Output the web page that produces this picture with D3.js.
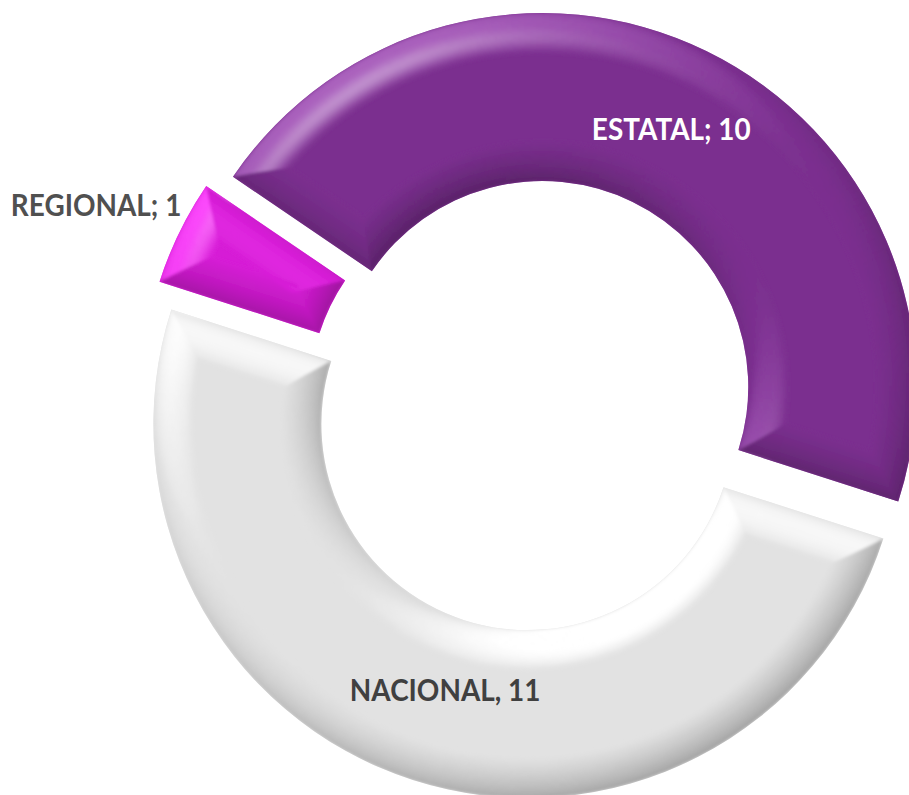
<!DOCTYPE html>
<html>
<head>
<meta charset="utf-8">
<script src="https://cdn.jsdelivr.net/npm/d3@7"></script>
<style>
  body { margin: 0; background: #fff; }
  svg { display: block; }
</style>
</head>
<body>
<div id="chart"></div>
<script>
// data
const categories = ["ESTATAL", "NACIONAL", "REGIONAL"];
const values = [10, 11, 1];
const labelTexts = ["ESTATAL; 10", "NACIONAL, 11", "REGIONAL; 1"];
const sliceColors = ["#7b2f8f", "#e2e2e2", "#d61cd6"];
const labelColors = ["#ffffff", "#404040", "#505050"];

// layout
const W = 909, H = 795;
const cx = 533.5, cy = 405;
const outerR = 374, innerR = 206, explode = 20;
const bevel = 40, bands = 12;
const startDeg = -55.8;
const labelRadius = [288, 279, 461];
const labelShiftDeg = [0.6, -0.7, -1.5];
const textSquash = 0.93;

function normalize(v) {
  const l = Math.hypot(v[0], v[1], v[2]);
  return [v[0] / l, v[1] / l, v[2] / l];
}
const light = normalize([-0.42, -0.66, 0.66]);
const half = normalize([light[0], light[1], light[2] + 1]);
const specFace = Math.pow(half[2], 30);

function shade(base, n) {
  const dot = n[0] * light[0] + n[1] * light[1] + n[2] * light[2];
  const k = dot - light[2];
  let c;
  if (k >= 0) {
    c = d3.rgb(base).brighter(k * 1.5).formatHex();
    c = d3.interpolateRgb(c, "#ffffff")(Math.min(1, k * 0.6));
  } else {
    c = d3.rgb(base).darker(Math.min(2, -k * 0.8)).formatHex();
  }
  const sp = Math.pow(Math.max(0, n[0] * half[0] + n[1] * half[1] + n[2] * half[2]), 30) - specFace;
  if (sp > 0) c = d3.interpolateRgb(c, "#ffffff")(sp * 0.35);
  return c;
}

// circle bevel profile: tilt shrinks from the edge towards the flat face
function normalAt(dir, t) {
  const s = 0.96 * (bevel - t) / bevel;
  const c = Math.sqrt(1 - s * s);
  return [dir[0] * s, dir[1] * s, c];
}

const svg = d3.select("#chart").append("svg").attr("width", W).attr("height", H);
const defs = svg.append("defs");
defs.append("filter").attr("id", "soft")
    .attr("x", "-5%").attr("y", "-5%").attr("width", "110%").attr("height", "110%")
    .append("feGaussianBlur").attr("stdDeviation", 1.6);

const data = categories.map((c, i) => ({ name: c, value: values[i], label: labelTexts[i], color: sliceColors[i], textColor: labelColors[i] }));

const a0 = startDeg * Math.PI / 180;
const pie = d3.pie().sort(null).value(d => d.value).startAngle(a0).endAngle(a0 + 2 * Math.PI);
const arcs = pie(data);
const arc = d3.arc().innerRadius(innerR).outerRadius(outerR);

function offset(d) {
  const m = (d.startAngle + d.endAngle) / 2;
  return [cx + Math.sin(m) * explode, cy - Math.cos(m) * explode];
}

const slices = svg.selectAll("g.slice").data(arcs).enter().append("g")
    .attr("class", "slice")
    .attr("transform", d => "translate(" + offset(d) + ")");

slices.each(function(d, i) {
  const g = d3.select(this);
  const clipId = "clip" + i;
  defs.append("clipPath").attr("id", clipId).append("path").attr("d", arc(d));

  g.append("path").attr("d", arc(d)).attr("fill", d.data.color);

  const bev = g.append("g").attr("clip-path", "url(#" + clipId + ")")
               .append("g").attr("filter", "url(#soft)");

  const nSeg = Math.max(2, Math.ceil((d.endAngle - d.startAngle) / (Math.PI / 180)));
  const da = (d.endAngle - d.startAngle) / nSeg;
  const bw = bevel / bands;

  // rims (outer and inner)
  const pieces = [];
  for (let k = 0; k < bands; k++) {
    const t1 = k * bw, t2 = (k + 1) * bw, tm = (t1 + t2) / 2;
    for (let j = 0; j < nSeg; j++) {
      const s0 = d.startAngle + j * da, s1 = s0 + da, am = (s0 + s1) / 2;
      const u = [Math.sin(am), -Math.cos(am)];
      pieces.push({ r0: outerR - t2 - 0.4, r1: outerR - t1, s0: s0, s1: s1 + 0.003, n: normalAt(u, tm) });
      pieces.push({ r0: innerR + t1, r1: innerR + t2 + 0.4, s0: s0, s1: s1 + 0.003, n: normalAt([-u[0], -u[1]], tm) });
    }
  }
  bev.selectAll("path.rim").data(pieces).enter().append("path")
     .attr("class", "rim")
     .attr("d", p => d3.arc()({ innerRadius: p.r0, outerRadius: p.r1, startAngle: p.s0, endAngle: p.s1 }))
     .attr("fill", p => shade(d.data.color, p.n));

  // end caps with mitred corners
  function pt(s, ang) { return [s * Math.sin(ang), -s * Math.cos(ang)]; }
  const caps = [];
  for (let k = 0; k < bands; k++) {
    const t1 = k * bw, t2 = (k + 1) * bw + 0.4, tm = (k + 0.5) * bw;
    const dirS = [-Math.cos(d.startAngle), -Math.sin(d.startAngle)];
    const dirE = [Math.cos(d.endAngle), Math.sin(d.endAngle)];
    caps.push({
      pts: [pt(outerR - t1, d.startAngle + t1 / (outerR - t1)), pt(innerR + t1, d.startAngle + t1 / (innerR + t1)),
            pt(innerR + t2, d.startAngle + t2 / (innerR + t2)), pt(outerR - t2, d.startAngle + t2 / (outerR - t2))],
      n: normalAt(dirS, tm)
    });
    caps.push({
      pts: [pt(outerR - t1, d.endAngle - t1 / (outerR - t1)), pt(innerR + t1, d.endAngle - t1 / (innerR + t1)),
            pt(innerR + t2, d.endAngle - t2 / (innerR + t2)), pt(outerR - t2, d.endAngle - t2 / (outerR - t2))],
      n: normalAt(dirE, tm)
    });
  }
  bev.selectAll("path.cap").data(caps).enter().append("path")
     .attr("class", "cap")
     .attr("d", c => "M" + c.pts.join("L") + "Z")
     .attr("fill", c => shade(d.data.color, c.n));
});

// data labels
const labels = svg.selectAll("text.lbl").data(arcs).enter().append("text")
    .attr("class", "lbl")
    .attr("x", (d, i) => {
      const m = (d.startAngle + d.endAngle) / 2 + labelShiftDeg[i] * Math.PI / 180;
      return offset(d)[0] + Math.sin(m) * labelRadius[i];
    })
    .attr("y", (d, i) => {
      const m = (d.startAngle + d.endAngle) / 2 + labelShiftDeg[i] * Math.PI / 180;
      return offset(d)[1] - Math.cos(m) * labelRadius[i];
    })
    .attr("dy", "0.36em")
    .attr("text-anchor", "middle")
    .attr("font-family", "Lato, 'Open Sans', sans-serif")
    .attr("font-weight", "bold")
    .attr("font-size", 30)
    .attr("fill", d => d.data.textColor)
    .text(d => d.data.label);

labels.each(function() {
  const len = this.getComputedTextLength();
  d3.select(this).attr("textLength", len * textSquash).attr("lengthAdjust", "spacingAndGlyphs");
});
</script>
</body>
</html>
